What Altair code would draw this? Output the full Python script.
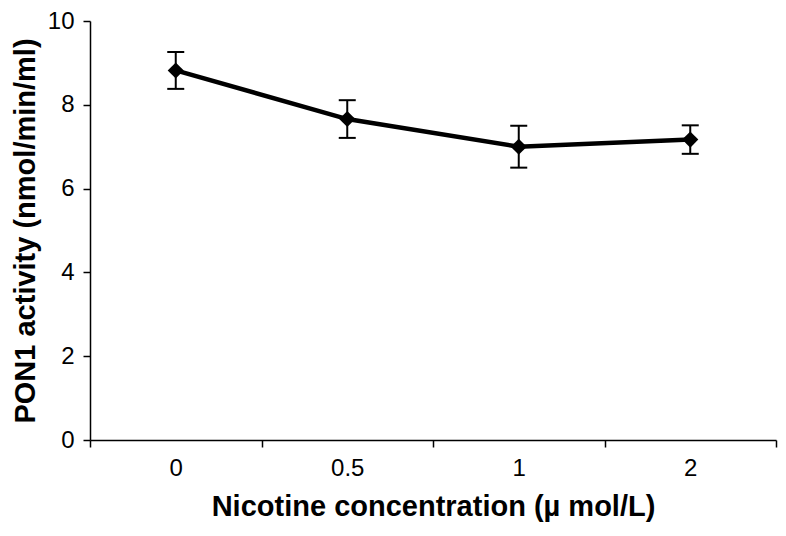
import altair as alt
import pandas as pd

concentrations = ["0", "0.5", "1", "2"]
pon1_mean = [8.82, 7.66, 7.0, 7.17]
pon1_err = [0.44, 0.45, 0.5, 0.34]

df = pd.DataFrame({"conc": concentrations, "mean": pon1_mean, "err": pon1_err})
df["lo"] = df["mean"] - df["err"]
df["hi"] = df["mean"] + df["err"]

FONT = "Liberation Sans"

xscale = alt.Scale(type="band", paddingInner=0, paddingOuter=0, domain=concentrations)
x_enc = alt.X(
    "conc:N",
    scale=xscale,
    sort=concentrations,
    bandPosition=0.5,
    title="Nicotine concentration (µ mol/L)",
    axis=alt.Axis(
        tickBand="extent",
        labelAngle=0,
        labelAlign="center",
        tickSize=7,
        labelFontSize=24,
        labelPadding=21,
        titleFontSize=29,
        titleFontWeight="bold",
        titlePadding=12,
    ),
)
y_scale = alt.Scale(domain=[0, 10], nice=False, zero=True)
y_axis = alt.Axis(
    values=[0, 2, 4, 6, 8, 10],
    grid=False,
    tickSize=7,
    labelFontSize=24,
    labelPadding=9,
    titleFontSize=29,
    titleFontWeight="bold",
    titlePadding=7,
)

base = alt.Chart(df)

line = base.mark_line(color="black", strokeWidth=4.5).encode(
    x=x_enc,
    y=alt.Y("mean:Q", scale=y_scale, axis=y_axis, title="PON1 activity (nmol/min/ml)"),
)
err = base.mark_rule(color="black", strokeWidth=2).encode(
    x=alt.X("conc:N", scale=xscale, sort=concentrations, bandPosition=0.5),
    y=alt.Y("lo:Q", scale=y_scale),
    y2="hi:Q",
)
cap_hi = base.mark_tick(color="black", thickness=2, size=17, opacity=1).encode(
    x=alt.X("conc:N", scale=xscale, sort=concentrations, bandPosition=0.5),
    y=alt.Y("hi:Q", scale=y_scale),
)
cap_lo = base.mark_tick(color="black", thickness=2, size=17, opacity=1).encode(
    x=alt.X("conc:N", scale=xscale, sort=concentrations, bandPosition=0.5),
    y=alt.Y("lo:Q", scale=y_scale),
)
pts = base.mark_point(shape="diamond", filled=True, size=260, color="black", opacity=1).encode(
    x=alt.X("conc:N", scale=xscale, sort=concentrations, bandPosition=0.5),
    y=alt.Y("mean:Q", scale=y_scale),
)

chart = (
    alt.layer(err, cap_hi, cap_lo, line, pts)
    .properties(
        width=686,
        height=419,
        autosize=alt.AutoSizeParams(type="none"),
        padding={"left": 82, "top": 13, "right": 2, "bottom": 86},
        background="white",
    )
    .configure_view(stroke=None)
    .configure_axis(
        domainColor="black",
        domainWidth=1.5,
        tickColor="black",
        tickWidth=1.5,
        labelColor="black",
        titleColor="black",
        labelFont=FONT,
        titleFont=FONT,
    )
)

chart.save("out.html", embed_options={"renderer": "svg", "actions": False})
